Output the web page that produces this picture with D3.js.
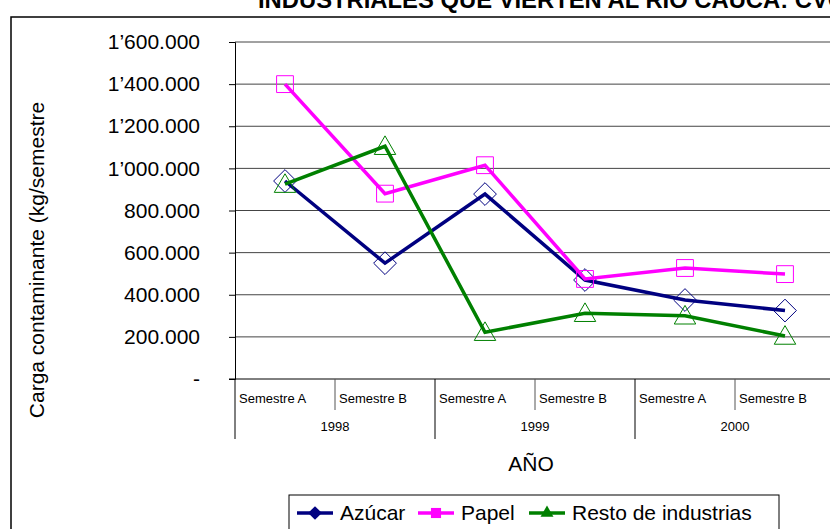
<!DOCTYPE html>
<html>
<head>
<meta charset="utf-8">
<script src="https://cdn.jsdelivr.net/npm/d3@7"></script>
<style>
  body { margin: 0; background: #fff; }
  svg { display: block; font-family: "Liberation Sans", Arial, sans-serif; }
</style>
</head>
<body>
<svg width="830" height="529"></svg>
<script>
// data
let semesters = ["Semestre A", "Semestre B", "Semestre A", "Semestre B", "Semestre A", "Semestre B"];
let years = ["1998", "1999", "2000"];
let azucar = [940000, 550000, 878000, 470000, 375000, 325000];
let papel = [1400000, 880000, 1015000, 475000, 527000, 498000];
let resto = [925000, 1105000, 222000, 312000, 300000, 204000];
let yTicks = [0, 200000, 400000, 600000, 800000, 1000000, 1200000, 1400000, 1600000];

let series = [
    { name: "Azúcar", values: azucar, color: "#000080", marker: "diamond" },
    { name: "Papel", values: papel, color: "#ff00ff", marker: "square" },
    { name: "Resto de industrias", values: resto, color: "#008000", marker: "triangle" }
];

let svg = d3.select("svg");
let width = parseInt(svg.attr("width"));
let height = parseInt(svg.attr("height"));

let margin = { left: 235, right: -5 };

let x = d3.scaleBand()
    .domain(d3.range(semesters.length))
    .range([margin.left, width - margin.right])
    .paddingInner(0).paddingOuter(0);

let y = d3.scaleLinear()
    .domain([0, 1600000])
    .range([379, 42]);

// title (cut off at top, like the original)
svg.append("text")
    .attr("x", 258).attr("y", 8)
    .attr("font-size", 23.8).attr("font-weight", "bold")
    .text("INDUSTRIALES QUE VIERTEN AL RIO CAUCA: CVC");

// outer chart border
svg.append("rect")
    .attr("x", 11).attr("y", 17)
    .attr("width", 900).attr("height", 600)
    .attr("fill", "none").attr("stroke", "#000").attr("stroke-width", 1.5);

// gridlines
svg.append("g").selectAll("line")
    .data(yTicks.slice(1))
    .enter().append("line")
    .attr("x1", margin.left).attr("x2", width)
    .attr("y1", d => y(d)).attr("y2", d => y(d))
    .attr("stroke", "#444").attr("stroke-width", 1);

// y axis
let fmt = function (d) {
    if (d === 0) return "-";
    let s = d3.format(",")(d).replace(/,/g, ".");
    if (d >= 1000000) s = s.replace(".", "’");
    return s;
};
let yAxis = d3.axisLeft(y).tickValues(yTicks).tickFormat(fmt).tickSize(6).tickPadding(29);
let gy = svg.append("g")
    .attr("transform", "translate(" + margin.left + ",0)")
    .call(yAxis);
gy.select(".domain").attr("stroke", "#000");
gy.selectAll(".tick line").attr("stroke", "#000");
gy.selectAll(".tick text").attr("font-size", 21).attr("fill", "#000")
    .attr("font-family", "Liberation Sans, Arial, sans-serif");

svg.append("text")
    .attr("transform", "translate(44,260) rotate(-90)")
    .attr("text-anchor", "middle")
    .attr("font-size", 21)
    .text("Carga contaminante (kg/semestre");

// x axis line
svg.append("line")
    .attr("x1", margin.left - 6).attr("x2", width)
    .attr("y1", y(0)).attr("y2", y(0))
    .attr("stroke", "#000");

// category separators
let xg = svg.append("g");
xg.selectAll("line")
    .data(d3.range(semesters.length))
    .enter().append("line")
    .attr("x1", d => x(d)).attr("x2", d => x(d))
    .attr("y1", y(0))
    .attr("y2", d => d % 2 === 0 ? 439 : 410)
    .attr("stroke", d => d % 2 === 0 ? "#000" : "#555");

xg.selectAll("text.sem")
    .data(semesters)
    .enter().append("text")
    .attr("class", "sem")
    .attr("x", (d, i) => x(i) + 4)
    .attr("y", 403)
    .attr("font-size", 13)
    .text(d => d);

xg.selectAll("text.year")
    .data(years)
    .enter().append("text")
    .attr("class", "year")
    .attr("x", (d, i) => x(i * 2) + x.bandwidth())
    .attr("y", 431)
    .attr("text-anchor", "middle")
    .attr("font-size", 13)
    .text(d => d);

svg.append("text")
    .attr("x", 531).attr("y", 471)
    .attr("text-anchor", "middle")
    .attr("font-size", 21)
    .text("AÑO");

// markers
function markerPath(type, size) {
    if (type === "diamond") return d3.symbol(d3.symbolDiamond2, size)();
    if (type === "square") return d3.symbol(d3.symbolSquare2, size)();
    return d3.symbol(d3.symbolTriangle2, size)();
}

let line = d3.line()
    .x((d, i) => x(i) + x.bandwidth() / 2)
    .y(d => y(d));

let sg = svg.append("g").selectAll("g")
    .data(series)
    .enter().append("g");

sg.append("path")
    .attr("d", d => line(d.values))
    .attr("fill", "none")
    .attr("stroke", d => d.color)
    .attr("stroke-width", 3.5);

sg.each(function (s) {
    d3.select(this).selectAll("path.mk")
        .data(s.values)
        .enter().append("path")
        .attr("class", "mk")
        .attr("transform", (d, i) => "translate(" + (x(i) + x.bandwidth() / 2) + "," + (y(d) + (s.marker === "triangle" ? 2 : 0)) + ")")
        .attr("d", markerPath(s.marker, s.marker === "square" ? 360 : 330))
        .attr("fill", "none")
        .attr("stroke", s.color)
        .attr("stroke-width", 1);
});

// legend
let lg = svg.append("g");
lg.append("rect")
    .attr("x", 289).attr("y", 495)
    .attr("width", 490).attr("height", 60)
    .attr("fill", "#fff").attr("stroke", "#000").attr("stroke-width", 1);

let legendX = [297, 418, 529];
let li = lg.selectAll("g.item")
    .data(series)
    .enter().append("g")
    .attr("class", "item")
    .attr("transform", (d, i) => "translate(" + legendX[i] + ",513)");

li.append("line")
    .attr("x1", 0).attr("x2", 36)
    .attr("stroke", d => d.color).attr("stroke-width", 3.5);

li.append("path")
    .attr("transform", "translate(18,0)")
    .attr("d", d => markerPath(d.marker, d.marker === "square" ? 130 : 120))
    .attr("fill", d => d.color);

li.append("text")
    .attr("x", 43).attr("y", 7)
    .attr("font-size", 21)
    .text(d => d.name);
</script>
</body>
</html>
